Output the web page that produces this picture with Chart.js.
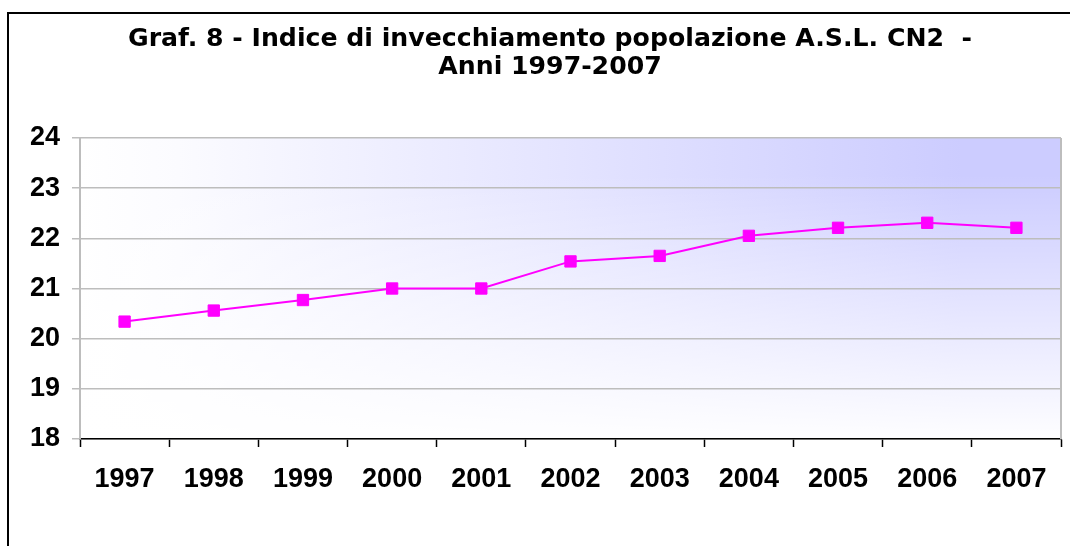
<!DOCTYPE html>
<html>
<head>
<meta charset="utf-8">
<script src="https://cdn.jsdelivr.net/npm/chart.js@4"></script>
<style>
  html, body { margin: 0; padding: 0; background: #ffffff; overflow: hidden; }
  #wrap { position: relative; width: 1070px; height: 546px; overflow: hidden; }
  #frame { position: absolute; left: 7px; top: 12px; width: 1100px; height: 600px; border: 2px solid #000; box-sizing: border-box; }
  #c { position: absolute; left: 0; top: 0; }
</style>
</head>
<body>
<div id="wrap">
  <div id="frame"></div>
  <canvas id="c" width="1070" height="546"></canvas>
</div>
<script>
const titleLines = ['Graf. 8 - Indice di invecchiamento popolazione A.S.L. CN2  -', 'Anni 1997-2007'];
const categories = ['1997', '1998', '1999', '2000', '2001', '2002', '2003', '2004', '2005', '2006', '2007'];
const indexValues = [20.34, 20.56, 20.77, 21.0, 21.0, 21.54, 21.65, 22.05, 22.21, 22.31, 22.21];
const yMin = 18;
const yMax = 24;
const yStep = 1;

const plotBackground = {
  id: 'plotBackground',
  beforeDraw(chart) {
    const { ctx, chartArea: a } = chart;
    ctx.save();
    const h = ctx.createLinearGradient(a.left, 0, a.right, 0);
    h.addColorStop(0, '#ffffff');
    h.addColorStop(0.1, '#fbfbff');
    h.addColorStop(0.9, '#ccccff');
    h.addColorStop(1, '#ccccff');
    ctx.fillStyle = h;
    ctx.fillRect(a.left, a.top, a.right - a.left, a.bottom - a.top);
    const v = ctx.createLinearGradient(0, a.top, 0, a.bottom);
    v.addColorStop(0, 'rgba(255,255,255,0)');
    v.addColorStop(0.12, 'rgba(255,255,255,0)');
    v.addColorStop(1, 'rgba(255,255,255,0.97)');
    ctx.fillStyle = v;
    ctx.fillRect(a.left, a.top, a.right - a.left, a.bottom - a.top);
    ctx.restore();
  },
  beforeDatasetsDraw(chart) {
    const { ctx, chartArea: a } = chart;
    ctx.save();
    ctx.strokeStyle = '#bdbdbd';
    ctx.lineWidth = 2;
    ctx.beginPath();
    ctx.moveTo(a.right, a.top);
    ctx.lineTo(a.right, a.bottom);
    ctx.stroke();
    ctx.restore();
  },
  afterDraw(chart) {
    const { ctx } = chart;
    ctx.save();
    ctx.fillStyle = '#000000';
    ctx.textAlign = 'center';
    ctx.textBaseline = 'middle';
    ctx.font = 'bold 25.2px "DejaVu Sans", sans-serif';
    ctx.fillText(titleLines[0], 550, 39.5);
    ctx.fillText(titleLines[1], 550, 67);
    ctx.restore();
  }
};

new Chart(document.getElementById('c'), {
  type: 'line',
  data: {
    labels: categories,
    datasets: [{
      data: indexValues,
      borderColor: '#ff00ff',
      borderWidth: 2,
      pointStyle: 'rect',
      pointRadius: 8,
      pointBackgroundColor: '#ff00ff',
      pointBorderColor: '#ff00ff',
      pointBorderWidth: 1,
      tension: 0,
      fill: false
    }]
  },
  options: {
    responsive: false,
    animation: false,
    layout: { padding: { left: 0, right: 3, top: 138, bottom: 0 } },
    plugins: {
      legend: { display: false },
      tooltip: { enabled: false },
      title: { display: false }
    },
    scales: {
      x: {
        offset: true,
        grid: { display: true, drawOnChartArea: false, drawTicks: true, tickLength: 8, tickColor: '#000000', tickWidth: 1.5, offset: true },
        border: { display: true, color: '#000000', width: 1.5 },
        ticks: { color: '#000000', padding: 16, font: { family: '"Liberation Sans", Arial, sans-serif', size: 27, weight: 'bold' } },
        afterFit(scale) { scale.height = 107; }
      },
      y: {
        min: yMin,
        max: yMax,
        ticks: { stepSize: yStep, color: '#000000', padding: 12, font: { family: '"Liberation Sans", Arial, sans-serif', size: 27, weight: 'bold' } },
        grid: { color: '#bdbdbd', lineWidth: 1.5, drawTicks: true, tickLength: 8, tickColor: '#bdbdbd' },
        border: { display: true, color: '#bdbdbd', width: 2 },
        afterFit(scale) { scale.width = 80; }
      }
    }
  },
  plugins: [plotBackground]
});
</script>
</body>
</html>
